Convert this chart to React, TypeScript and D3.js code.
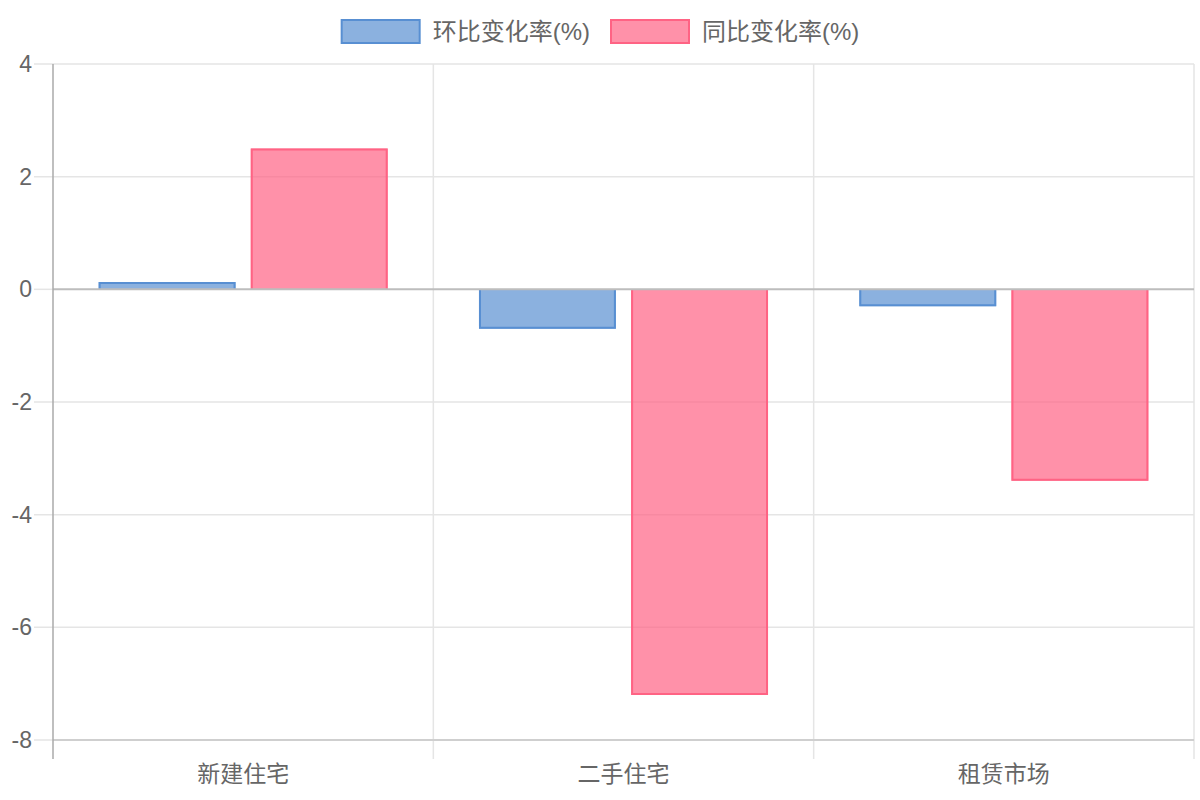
import React from "react";
import * as d3 from "d3";

const categories = ["新建住宅", "二手住宅", "租赁市场"];
const seriesNames = ["环比变化率(%)", "同比变化率(%)"];
const momValues = [0.13, -0.7, -0.3];
const yoyValues = [2.5, -7.2, -3.4];
const yTicks = [-8, -6, -4, -2, 0, 2, 4];

const seriesFill = ["rgba(84,140,208,0.68)", "rgba(255,99,132,0.7)"];
const seriesStroke = ["rgb(88,143,210)", "rgb(255,99,132)"];

const W = 1200;
const H = 800;
const left = 53;
const right = 1194;
const top = 64;
const bottom = 740;
const FONT = "'Liberation Sans', Arial, 'Noto Sans CJK SC', sans-serif";
const FS = 23;
const LFS = 24;
const TXT = "#666";

function measure(text: string, fs: number): number {
  const c = document.createElement("canvas").getContext("2d");
  if (!c) return text.length * fs;
  c.font = `${fs}px ${FONT}`;
  return c.measureText(text).width;
}

export default function App() {
  const x = d3.scaleBand<string>().domain(categories).range([left, right]).paddingInner(0).paddingOuter(0);
  const bw = x.bandwidth();
  const inner = d3
    .scaleBand<number>()
    .domain([0, 1])
    .range([bw * 0.1, bw * 0.9])
    .paddingInner(0.1)
    .paddingOuter(0.05);
  const y = d3.scaleLinear().domain([-8, 4]).range([bottom, top]);
  const series = [momValues, yoyValues];

  // legend layout
  const boxW = 80;
  const boxH = 25;
  const gapBT = 12;
  const itemGap = 20;
  const widths = seriesNames.map((s) => measure(s, LFS));
  const total = widths.reduce((a, w) => a + boxW + gapBT + w, 0) + itemGap * (seriesNames.length - 1);
  let lx = W / 2 - total / 2;
  const legendItems = seriesNames.map((s, i) => {
    const item = { x: lx, name: s, i };
    lx += boxW + gapBT + widths[i] + itemGap;
    return item;
  });

  const y0 = y(0);

  return (
    <svg width={W} height={H} style={{ position: "absolute", left: 0, top: 0, background: "#fff" }} fontFamily={FONT}>
      {yTicks.map((t) =>
        t === 0 || t === -8 ? null : (
          <line key={"g" + t} x1={34} x2={right} y1={y(t)} y2={y(t)} stroke="#e5e5e5" strokeWidth={1.5} />
        )
      )}
      <line x1={34} x2={left} y1={y(-8)} y2={y(-8)} stroke="#e5e5e5" strokeWidth={1.5} />
      <line x1={34} x2={left} y1={y0} y2={y0} stroke="#e5e5e5" strokeWidth={1.5} />
      {categories.map((c, i) => {
        const xv = (x(c) as number) + bw;
        return <line key={"v" + i} x1={xv} x2={xv} y1={top} y2={759} stroke="#e5e5e5" strokeWidth={1.5} />;
      })}
      {series.map((vals, si) =>
        vals.map((v, ci) => {
          const bx = (x(categories[ci]) as number) + (inner(si) as number);
          const w = inner.bandwidth();
          const yv = y(v);
          const yt = Math.min(yv, y0);
          const h = Math.abs(yv - y0);
          const x1 = bx + 1;
          const x2 = bx + w - 1;
          const ye = v >= 0 ? yv + 1 : yv - 1;
          const path = `M${x1},${y0} L${x1},${ye} L${x2},${ye} L${x2},${y0}`;
          return (
            <g key={`b${si}-${ci}`}>
              <rect x={bx} y={yt} width={w} height={h} fill={seriesFill[si]} />
              <path d={path} fill="none" stroke={seriesStroke[si]} strokeWidth={2} />
            </g>
          );
        })
      )}
      <line x1={left} x2={right} y1={y0} y2={y0} stroke="#bdbdbd" strokeWidth={2} />
      <line x1={left} x2={right} y1={bottom} y2={bottom} stroke="#cfcfcf" strokeWidth={2} />
      <line x1={left} x2={left} y1={top} y2={759} stroke="#aaaaaa" strokeWidth={1.5} />
      {yTicks.map((t) => (
        <text key={"yt" + t} x={32} y={y(t)} dy="0.35em" textAnchor="end" fontSize={FS} fill={TXT}>
          {t}
        </text>
      ))}
      {categories.map((c) => (
        <text key={"xl" + c} x={(x(c) as number) + bw / 2} y={782} textAnchor="middle" fontSize={FS} fill={TXT}>
          {c}
        </text>
      ))}
      {legendItems.map((it) => (
        <g key={"lg" + it.i}>
          <rect
            x={it.x + 1}
            y={20}
            width={boxW - 2}
            height={boxH - 2}
            fill={seriesFill[it.i]}
            stroke={seriesStroke[it.i]}
            strokeWidth={2}
          />
          <text x={it.x + boxW + gapBT} y={32} dy="0.35em" fontSize={LFS} fill={TXT}>
            {it.name}
          </text>
        </g>
      ))}
    </svg>
  );
}
